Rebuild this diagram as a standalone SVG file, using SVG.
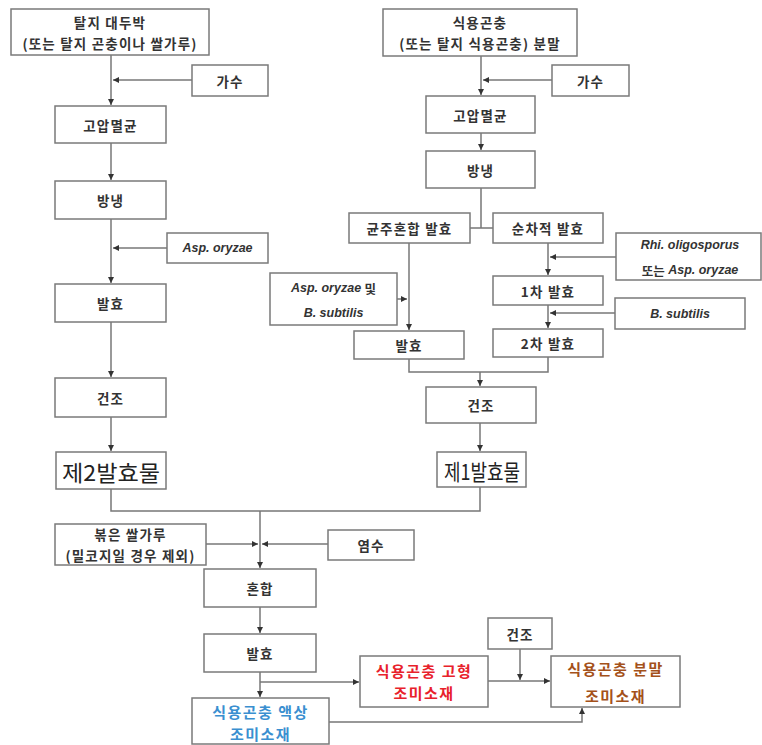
<svg xmlns="http://www.w3.org/2000/svg" width="762" height="745" viewBox="0 0 762 745">
<style>
.b{fill:#fff;stroke:#7a7a7a;stroke-width:1.5}
.t{font-family:"Noto Sans CJK KR",sans-serif;font-size:13.5px;font-weight:bold;fill:#333;text-anchor:middle;dominant-baseline:central;letter-spacing:1.2px}
.i{font-family:"Liberation Sans",sans-serif;font-size:12.5px;font-weight:bold;font-style:italic;fill:#333;text-anchor:middle;dominant-baseline:central}
.big{font-family:"Noto Sans CJK KR",sans-serif;font-size:22px;fill:#222;text-anchor:middle;dominant-baseline:central}
.k{font-family:"Noto Sans CJK KR",sans-serif;font-style:normal}
.col{font-size:15px;letter-spacing:1.5px}
.c{fill:none;stroke:#777;stroke-width:1.5}
</style>
<defs>
<marker id="a" viewBox="0 0 10 10" refX="10" refY="5" markerWidth="6" markerHeight="6" orient="auto" markerUnits="userSpaceOnUse"><path d="M0,0L10,5L0,10z" fill="#333"/></marker>
</defs>
<rect width="762" height="745" fill="#fff"/>
<g id="connectors">
<path class="c" d="M111,55V105" marker-end="url(#a)"/>
<path class="c" d="M192,80H113" marker-end="url(#a)"/>
<path class="c" d="M111,143V180" marker-end="url(#a)"/>
<path class="c" d="M111,219V283" marker-end="url(#a)"/>
<path class="c" d="M167,248H113" marker-end="url(#a)"/>
<path class="c" d="M111,322V377" marker-end="url(#a)"/>
<path class="c" d="M111,417V451" marker-end="url(#a)"/>
<path class="c" d="M481,56V95" marker-end="url(#a)"/>
<path class="c" d="M552,80H483" marker-end="url(#a)"/>
<path class="c" d="M481,133V150" marker-end="url(#a)"/>
<path class="c" d="M481,188V228M470,228H493"/>
<path class="c" d="M409,243V330" marker-end="url(#a)"/>
<path class="c" d="M397,299H407" marker-end="url(#a)"/>
<path class="c" d="M548,243V275" marker-end="url(#a)"/>
<path class="c" d="M616,257H550" marker-end="url(#a)"/>
<path class="c" d="M548,305V328" marker-end="url(#a)"/>
<path class="c" d="M615,313H550" marker-end="url(#a)"/>
<path class="c" d="M409,359V372H548V357"/>
<path class="c" d="M480,372V386" marker-end="url(#a)"/>
<path class="c" d="M480,423V451" marker-end="url(#a)"/>
<path class="c" d="M111,489V511H480V487"/>
<path class="c" d="M260,511V568" marker-end="url(#a)"/>
<path class="c" d="M206,544H258" marker-end="url(#a)"/>
<path class="c" d="M328,544H262" marker-end="url(#a)"/>
<path class="c" d="M260,607V633" marker-end="url(#a)"/>
<path class="c" d="M260,672V697" marker-end="url(#a)"/>
<path class="c" d="M260,682H359" marker-end="url(#a)"/>
<path class="c" d="M488,681H550" marker-end="url(#a)"/>
<path class="c" d="M520,649V680" marker-end="url(#a)"/>
<path class="c" d="M329,722H582V708" marker-end="url(#a)"/>
</g>
<g id="n1"><rect class="b" x="11" y="9" width="198" height="46"/><text class="t" x="110" y="21.5">탈지 대두박</text><text class="t" x="110" y="42.5">(또는 탈지 곤충이나 쌀가루)</text></g>
<g id="n2"><rect class="b" x="192" y="65" width="76" height="31"/><text class="t" x="230" y="80.5">가수</text></g>
<g id="n3"><rect class="b" x="55" y="106" width="111" height="37"/><text class="t" x="110.5" y="124.5">고압멸균</text></g>
<g id="n4"><rect class="b" x="55" y="181" width="111" height="38"/><text class="t" x="110.5" y="200">방냉</text></g>
<g id="n5"><rect class="b" x="167" y="233" width="101" height="30"/><text class="i" x="217.5" y="248">Asp. oryzae</text></g>
<g id="n6"><rect class="b" x="55" y="284" width="111" height="38"/><text class="t" x="110.5" y="303">발효</text></g>
<g id="n7"><rect class="b" x="55" y="378" width="111" height="39"/><text class="t" x="110.5" y="397.5">건조</text></g>
<g id="n8"><rect class="b" x="56" y="452" width="110" height="37"/><text class="big" x="111" y="471" textLength="98" lengthAdjust="spacingAndGlyphs">제2발효물</text></g>
<g id="n9"><rect class="b" x="383" y="9" width="194" height="47"/><text class="t" x="480" y="21.5">식용곤충</text><text class="t" x="480" y="42.5">(또는 탈지 식용곤충) 분말</text></g>
<g id="n10"><rect class="b" x="552" y="65" width="77" height="31"/><text class="t" x="590.5" y="80.5">가수</text></g>
<g id="n11"><rect class="b" x="426" y="96" width="109" height="37"/><text class="t" x="480.5" y="114.5">고압멸균</text></g>
<g id="n12"><rect class="b" x="426" y="151" width="109" height="37"/><text class="t" x="480.5" y="169.5">방냉</text></g>
<g id="n13"><rect class="b" x="349" y="213" width="121" height="30"/><text class="t" x="409.5" y="228">균주혼합 발효</text></g>
<g id="n14"><rect class="b" x="493" y="213" width="110" height="30"/><text class="t" x="548" y="228">순차적 발효</text></g>
<g id="n15"><rect class="b" x="270" y="273" width="127" height="52"/><text class="i" x="333.5" y="288">Asp. oryzae <tspan class="k">및</tspan></text><text class="i" x="333.5" y="313">B. subtilis</text></g>
<g id="n16"><rect class="b" x="616" y="233" width="145" height="47"/><text class="i" x="690" y="245">Rhi. oligosporus</text><text class="i" x="690" y="270"><tspan class="k">또는</tspan> Asp. oryzae</text></g>
<g id="n17"><rect class="b" x="493" y="276" width="110" height="29"/><text class="t" x="548" y="290.5">1차 발효</text></g>
<g id="n18"><rect class="b" x="615" y="298" width="130" height="31"/><text class="i" x="680" y="313.5">B. subtilis</text></g>
<g id="n19"><rect class="b" x="354" y="331" width="110" height="28"/><text class="t" x="409" y="345">발효</text></g>
<g id="n20"><rect class="b" x="493" y="329" width="110" height="28"/><text class="t" x="548" y="343">2차 발효</text></g>
<g id="n21"><rect class="b" x="426" y="387" width="110" height="36"/><text class="t" x="481" y="405">건조</text></g>
<g id="n22"><rect class="b" x="437" y="452" width="89" height="35"/><text class="big" x="482" y="469.5" textLength="76" lengthAdjust="spacingAndGlyphs">제1발효물</text></g>
<g id="n23"><rect class="b" x="55" y="524" width="151" height="41"/><text class="t" x="130.5" y="534">볶은 쌀가루</text><text class="t" x="130.5" y="555">(밀코지일 경우 제외)</text></g>
<g id="n24"><rect class="b" x="328" y="530" width="86" height="30"/><text class="t" x="371" y="545">염수</text></g>
<g id="n25"><rect class="b" x="204" y="569" width="112" height="38"/><text class="t" x="260" y="588">혼합</text></g>
<g id="n26"><rect class="b" x="204" y="634" width="112" height="38"/><text class="t" x="260" y="653">발효</text></g>
<g id="n27"><rect class="b" x="192" y="698" width="137" height="46"/><text class="t col" x="260.5" y="711" style="fill:#3a8fd0">식용곤충 액상</text><text class="t col" x="260.5" y="733" style="fill:#3a8fd0">조미소재</text></g>
<g id="n28"><rect class="b" x="360" y="656" width="128" height="51"/><text class="t col" x="424" y="670" style="fill:#e8212b">식용곤충 고형</text><text class="t col" x="424" y="692" style="fill:#e8212b">조미소재</text></g>
<g id="n29"><rect class="b" x="488" y="618" width="64" height="31"/><text class="t" x="520" y="633.5">건조</text></g>
<g id="n30"><rect class="b" x="551" y="656" width="129" height="51"/><text class="t col" x="615.5" y="668" style="fill:#a4511a">식용곤충 분말</text><text class="t col" x="615.5" y="695" style="fill:#a4511a">조미소재</text></g>
</svg>
